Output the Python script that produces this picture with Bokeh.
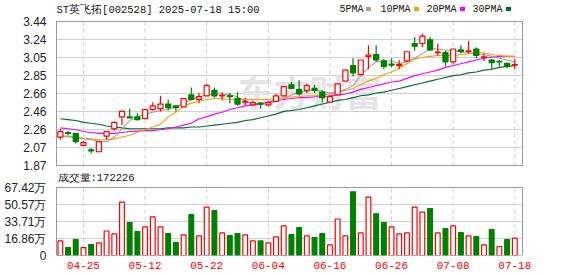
import numpy as np
from bokeh.plotting import figure
from bokeh.layouts import column
from bokeh.models import ColumnDataSource, FixedTicker, Range1d
from bokeh.core.properties import value
from bokeh.embed import file_html
from bokeh.resources import INLINE

# ---------------- data ----------------
dates = ["04-22", "04-23", "04-24", "04-25", "04-28", "04-29", "04-30",
         "05-06", "05-07", "05-08", "05-09", "05-12", "05-13", "05-14", "05-15", "05-16",
         "05-19", "05-20", "05-21", "05-22", "05-23", "05-26", "05-27", "05-28", "05-29", "05-30",
         "06-03", "06-04", "06-05", "06-06", "06-09", "06-10", "06-11", "06-12", "06-13",
         "06-16", "06-17", "06-18", "06-19", "06-20", "06-23", "06-24", "06-25", "06-26", "06-27", "06-30",
         "07-01", "07-02", "07-03", "07-04", "07-07", "07-08", "07-09", "07-10", "07-11",
         "07-14", "07-15", "07-16", "07-17", "07-18"]

opens = [2.18, 2.23, 2.22, 2.09, 2.04, 2.02, 2.19, 2.27, 2.40, 2.40,
         2.40, 2.38, 2.48, 2.49, 2.54, 2.52, 2.51, 2.64, 2.59, 2.63,
         2.69, 2.63, 2.63, 2.60, 2.56, 2.53, 2.55, 2.53, 2.57, 2.63,
         2.75, 2.70, 2.69, 2.71, 2.67, 2.56, 2.64, 2.79, 2.96, 2.86,
         3.06, 3.08, 3.01, 2.975, 2.96, 3.01, 3.20, 3.20, 3.24, 3.10,
         3.10, 3.00, 3.13, 3.115, 3.14, 3.05, 3.02, 3.005, 2.985, 2.965]
highs = [2.27, 2.25, 2.22, 2.14, 2.06, 2.13, 2.24, 2.35, 2.47, 2.49,
         2.44, 2.48, 2.56, 2.63, 2.59, 2.53, 2.60, 2.72, 2.66, 2.76,
         2.72, 2.67, 2.66, 2.67, 2.61, 2.58, 2.56, 2.57, 2.65, 2.73,
         2.78, 2.80, 2.76, 2.75, 2.69, 2.63, 2.76, 2.91, 3.04, 3.02,
         3.18, 3.18, 3.03, 3.04, 3.02, 3.11, 3.27, 3.31, 3.27, 3.20,
         3.12, 3.14, 3.18, 3.23, 3.16, 3.09, 3.03, 3.02, 2.99, 3.03]
lows = [2.15, 2.20, 2.11, 2.08, 2.00, 2.02, 2.15, 2.25, 2.31, 2.39,
        2.36, 2.38, 2.47, 2.46, 2.47, 2.46, 2.51, 2.58, 2.55, 2.63,
        2.61, 2.58, 2.55, 2.52, 2.53, 2.53, 2.49, 2.52, 2.56, 2.63,
        2.70, 2.63, 2.66, 2.66, 2.56, 2.56, 2.64, 2.79, 2.84, 2.86,
        2.92, 3.00, 2.92, 2.94, 2.92, 3.00, 3.12, 3.16, 3.12, 3.07,
        2.95, 2.98, 3.09, 3.09, 3.04, 3.01, 2.92, 2.95, 2.93, 2.92]
closes = [2.24, 2.22, 2.13, 2.12, 2.03, 2.13, 2.24, 2.34, 2.46, 2.39,
          2.37, 2.48, 2.52, 2.54, 2.50, 2.50, 2.60, 2.59, 2.62, 2.74,
          2.63, 2.635, 2.62, 2.54, 2.565, 2.555, 2.54, 2.555, 2.63, 2.73,
          2.71, 2.65, 2.74, 2.69, 2.61, 2.62, 2.76, 2.91, 2.88, 3.02,
          3.075, 3.02, 2.95, 2.965, 2.97, 3.11, 3.17, 3.28, 3.13, 3.105,
          3.00, 3.14, 3.11, 3.12, 3.07, 3.055, 2.99, 3.00, 2.95, 2.97]

# volume in 万 (10k shares)
volumes = [14.5, 7.9, 15.8, 7.9, 10.9, 12.5, 24.3, 21.4, 53.0, 32.6,
           23.7, 28.3, 38.2, 28.3, 21.7, 12.8, 20.4, 40.5, 19.4, 48.0,
           44.4, 22.4, 19.7, 21.7, 20.4, 14.5, 14.5, 12.5, 18.4, 29.3,
           20.6, 27.6, 19.4, 17.8, 21.7, 10.5, 36.2, 19.4, 63.1, 22.4,
           57.9, 41.4, 32.6, 28.3, 21.4, 22.4, 48.0, 43.1, 46.4, 22.4,
           26.6, 29.3, 22.7, 19.4, 18.7, 10.5, 25.7, 8.9, 15.8, 17.2]
vol_up = "RGGRGRRRRGGRRRGGRGRRGRGGRRGRRRGGRGGRRRGRRGGRRRRRGRGRGRGRGRGR"

ma5 = [2.19, 2.19, 2.17, 2.16, 2.15, 2.13, 2.13, 2.18, 2.27, 2.36,
       2.40, 2.43, 2.45, 2.47, 2.48, 2.51, 2.55, 2.59, 2.62, 2.64,
       2.65, 2.65, 2.64, 2.62, 2.57, 2.55, 2.54, 2.54, 2.57, 2.60,
       2.64, 2.67, 2.68, 2.69, 2.68, 2.66, 2.67, 2.70, 2.74, 2.85,
       2.94, 3.00, 3.01, 3.01, 2.98, 3.00, 3.04, 3.09, 3.14, 3.14,
       3.13, 3.12, 3.11, 3.10, 3.09, 3.08, 3.06, 3.04, 3.02, 3.00]
ma10 = [2.19, 2.18, 2.18, 2.17, 2.16, 2.15, 2.15, 2.16, 2.18, 2.20,
        2.23, 2.26, 2.29, 2.32, 2.40, 2.45, 2.52, 2.55, 2.57, 2.59,
        2.60, 2.60, 2.59, 2.59, 2.59, 2.59, 2.59, 2.59, 2.60, 2.61,
        2.62, 2.62, 2.63, 2.63, 2.64, 2.65, 2.67, 2.69, 2.71, 2.75,
        2.79, 2.82, 2.86, 2.89, 2.93, 2.98, 3.03, 3.05, 3.06, 3.07,
        3.07, 3.07, 3.08, 3.09, 3.10, 3.10, 3.08, 3.07, 3.06, 3.06]
ma20 = [2.28, 2.27, 2.26, 2.24, 2.23, 2.22, 2.22, 2.22, 2.23, 2.24,
        2.245, 2.25, 2.25, 2.26, 2.27, 2.29, 2.31, 2.33, 2.38, 2.40,
        2.43, 2.45, 2.48, 2.50, 2.52, 2.53, 2.54, 2.56, 2.58, 2.59,
        2.60, 2.61, 2.61, 2.62, 2.62, 2.63, 2.64, 2.65, 2.67, 2.70,
        2.72, 2.74, 2.76, 2.78, 2.79, 2.82, 2.85, 2.87, 2.89, 2.91,
        2.94, 2.96, 2.98, 3.00, 3.02, 3.04, 3.05, 3.06, 3.06, 3.06]
ma30 = [2.38, 2.37, 2.36, 2.34, 2.33, 2.32, 2.30, 2.29, 2.28, 2.27,
        2.27, 2.27, 2.27, 2.27, 2.28, 2.28, 2.28, 2.29, 2.29, 2.30,
        2.31, 2.32, 2.33, 2.34, 2.36, 2.37, 2.39, 2.41, 2.43, 2.46,
        2.47, 2.48, 2.50, 2.52, 2.54, 2.56, 2.58, 2.59, 2.61, 2.63,
        2.64, 2.66, 2.67, 2.69, 2.71, 2.73, 2.75, 2.77, 2.79, 2.81,
        2.83, 2.85, 2.86, 2.88, 2.89, 2.91, 2.92, 2.94, 2.95, 2.96]

price_min, price_max = 1.87, 3.44
price_tick_labels = ["1.87", "2.07", "2.26", "2.46", "2.66", "2.85", "3.05", "3.24", "3.44"]
vol_max = 67.42
vol_tick_labels = ["0", "16.86万", "33.71万", "50.57万", "67.42万"]
x_label_dates = ["04-25", "05-12", "05-22", "06-04", "06-16", "06-26", "07-08", "07-18"]
title_text = "ST英飞拓[002528] 2025-07-18 15:00"
vol_title = "成交量:172226"
watermark = "东方财富"
ma_names = ["5PMA", "10PMA", "20PMA", "30PMA"]
ma_colors = ["#a0a0a0", "#f5a300", "#ff00ff", "#006b32"]

# ---------------- layout constants (pixels) ----------------
W = 578
BOX_L, BOX_R = 56, 522          # plot box left/right edge
P_TOP, P_BOT = 21, 165          # price box top/bottom
V_TOP, V_BOT = 187, 255         # volume box top/bottom
P_FIG_H = 173                   # price figure covers canvas rows 0..173
V_FIG_H = 276 - P_FIG_H

RED = "#ff0000"
GREEN = "#008000"
GRID = "#d0d0d0"
FRAME = "#999999"
AXIS_FONT = "Liberation Sans"
MONO = "Liberation Mono"
CJK = "Noto Sans CJK SC"

n = len(dates)
idx = np.arange(n)
x_lo, x_hi = -0.5, n              # box spans these index values
ppu = (BOX_R - BOX_L) / (x_hi - x_lo)
pad = 1.0 / ppu
xr = Range1d(x_lo - pad, x_hi + pad)


def px_to_x(px):
    return x_lo + (px - BOX_L) / ppu


ppy = (price_max - price_min) / (P_BOT - P_TOP)


def py_to_price(py):
    return price_max - (py - P_TOP) * ppy


vpy = vol_max / (V_BOT - V_TOP)


def py_to_vol(py):
    return vol_max - (py - V_TOP) * vpy


# ---------------- derived ----------------
o = np.array(opens); c = np.array(closes)
up = c >= o
min_body = 0.006
mid = (o + c) / 2
thin = np.abs(o - c) < min_body
body_top = np.where(thin, mid + min_body / 2, np.maximum(o, c))
body_bot = np.where(thin, mid - min_body / 2, np.minimum(o, c))

src = ColumnDataSource(dict(
    x=idx, high=highs, low=lows, top=body_top, bottom=body_bot,
    line=[RED if u else GREEN for u in up],
    fill=["#ffffff" if u else GREEN for u in up],
))
vsrc = ColumnDataSource(dict(
    x=idx, v=volumes,
    line=[RED if d == "R" else GREEN for d in vol_up],
    fill=["#ffffff" if d == "R" else GREEN for d in vol_up],
))
label_pos = [dates.index(d) for d in x_label_dates]


def style_yaxis(fig, ticks, labels):
    fig.yaxis.ticker = FixedTicker(ticks=ticks)
    fig.yaxis.major_label_overrides = {t: l for t, l in zip(ticks, labels)}
    fig.yaxis.axis_line_color = None
    fig.yaxis.major_tick_line_color = None
    fig.yaxis.minor_tick_line_color = None
    fig.yaxis.major_label_standoff = 3
    fig.yaxis.major_label_text_font = AXIS_FONT
    fig.yaxis.major_label_text_font_size = "12px"
    fig.yaxis.major_label_text_color = "#222222"
    fig.ygrid.ticker = FixedTicker(ticks=ticks)
    fig.ygrid.grid_line_color = GRID
    fig.xgrid.grid_line_color = None
    fig.outline_line_color = None


# ---------------- price figure ----------------
p = figure(width=W, height=P_FIG_H, x_range=xr,
           y_range=Range1d(py_to_price(P_FIG_H - 2), py_to_price(0)),
           toolbar_location=None, output_backend="svg", x_axis_location=None,
           min_border_left=BOX_L - 1, min_border_right=W - BOX_R - 1,
           min_border_top=0, min_border_bottom=2)
pt = list(np.linspace(price_min, price_max, len(price_tick_labels)))
style_yaxis(p, pt, price_tick_labels)

p.text(x=[px_to_x(237)], y=[py_to_price(90)], text=[watermark],
       text_font=value(CJK), text_font_size=value("36px"), text_font_style="bold",
       text_color="#e4e4e8", text_baseline="middle", text_align="left")
p.segment(x0=label_pos, y0=price_min, x1=label_pos, y1=price_max,
          line_color=GRID, line_dash="4 3", line_width=1)
p.quad(left=x_lo, right=x_hi, bottom=price_min, top=price_max,
       fill_color=None, line_color=FRAME, line_width=1)

for vals, col in zip([ma30, ma20, ma10, ma5], ma_colors[::-1]):
    p.line(idx, vals, line_color=col, line_width=1.1)

p.segment(x0="x", y0="low", x1="x", y1="high", source=src, line_color="line", line_width=1.2)
p.vbar(x="x", top="top", bottom="bottom", width=0.66, source=src,
       fill_color="fill", line_color="line", line_width=1.2)

# title & legend
head_y = py_to_price(9)
p.text(x=[px_to_x(56)], y=[head_y], text=[title_text],
       text_font=value(MONO), text_font_size=value("10.5px"), text_color="#111111",
       text_baseline="middle", text_align="left")
leg_text_px = [339, 380, 426, 472]
leg_box_px = [368, 416, 462, 508]
p.text(x=[px_to_x(v) for v in leg_text_px], y=[head_y] * 4, text=ma_names,
       text_font=value(MONO), text_font_size=value("10px"), text_color="#111111",
       text_baseline="middle", text_align="left")
p.rect(x=[px_to_x(v) for v in leg_box_px], y=[py_to_price(8.5)] * 4, width=5, height=4,
       width_units="screen", height_units="screen", fill_color=ma_colors, line_color=None)

# ---------------- volume figure ----------------
q = figure(width=W, height=V_FIG_H, x_range=xr,
           y_range=Range1d(0, py_to_vol(P_FIG_H)),
           toolbar_location=None, output_backend="svg",
           min_border_left=BOX_L - 1, min_border_right=W - BOX_R - 1,
           min_border_top=0, min_border_bottom=276 - V_BOT)
vt = list(np.linspace(0, vol_max, len(vol_tick_labels)))
style_yaxis(q, vt, vol_tick_labels)
q.xaxis.ticker = FixedTicker(ticks=label_pos)
q.xaxis.major_label_overrides = {i: d for i, d in zip(label_pos, x_label_dates)}
q.xaxis.axis_line_color = None
q.xaxis.major_tick_line_color = None
q.xaxis.minor_tick_line_color = None
q.xaxis.major_label_standoff = 0
q.xaxis.major_label_text_font = MONO
q.xaxis.major_label_text_font_size = "11px"
q.xaxis.major_label_text_color = RED

q.segment(x0=label_pos, y0=0, x1=label_pos, y1=vol_max,
          line_color=GRID, line_dash="4 3", line_width=1)
q.vbar(x="x", top="v", bottom=0, width=0.62, source=vsrc,
       fill_color="fill", line_color="line", line_width=1.2)
q.quad(left=x_lo, right=x_hi, bottom=0, top=vol_max,
       fill_color=None, line_color=FRAME, line_width=1)

q.text(x=[px_to_x(57)], y=[py_to_vol(177)], text=[vol_title],
       text_font=value(MONO), text_font_size=value("10.5px"), text_color="#111111",
       text_baseline="middle", text_align="left")

layout = column(p, q, spacing=0)
open("out.html", "w").write(file_html(layout, INLINE))
